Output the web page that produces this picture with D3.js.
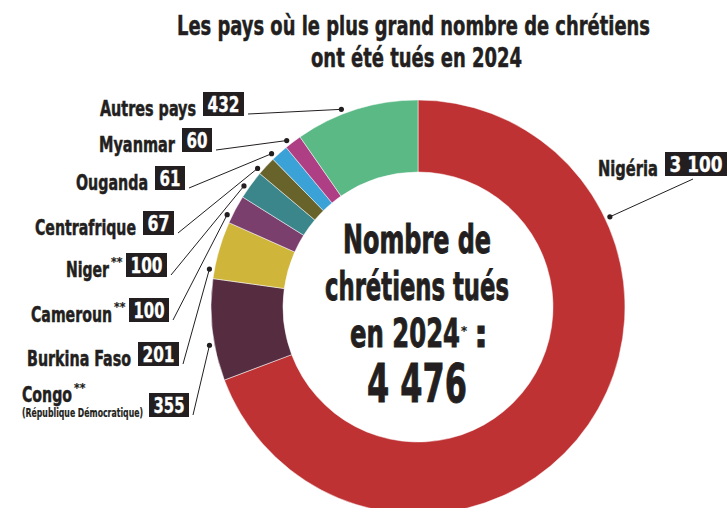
<!DOCTYPE html>
<html>
<head>
<meta charset="utf-8">
<script src="https://cdn.jsdelivr.net/npm/d3@7"></script>
<style>
  html, body { margin: 0; padding: 0; background: #ffffff; }
  svg { display: block; }
  text { font-family: "Liberation Sans Narrow", "DejaVu Sans Condensed", "Liberation Sans", sans-serif; font-weight: bold; fill: #231f20; stroke: #231f20; stroke-width: 0.5; paint-order: stroke; }
  text.big { stroke-width: 0.9; }
  text.inv { fill: #ffffff; stroke: #ffffff; stroke-width: 0.3; }
  text.thin { stroke-width: 0.2; }
</style>
</head>
<body>
<svg id="chart" width="727" height="508"></svg>
<script>
// ---- data ----
const countries = ["Nigéria", "Congo", "Burkina Faso", "Cameroun", "Niger", "Centrafrique", "Ouganda", "Myanmar", "Autres pays"];
const killed = [3100, 355, 201, 100, 100, 67, 61, 60, 432];
const valueLabels = ["3 100", "355", "201", "100", "100", "67", "61", "60", "432"];
const footnoteMarks = ["", "**", "", "**", "**", "", "", "", ""];
const subLabels = ["", "(République Démocratique)", "", "", "", "", "", "", ""];
const colors = ["#bf3234", "#562d40", "#cfb53a", "#7b3f6e", "#3a868b", "#68622b", "#3aa2d6", "#ae3f85", "#5ab985"];
const titleLines = ["Les pays où le plus grand nombre de chrétiens", "ont été tués en 2024"];
const centerLines = ["Nombre de", "chrétiens tués", "en 2024"];
const totalLabel = "4 476";

// ---- layout (positions / sizes only) ----
const W = 727, H = 508;
const cx = 418, cy = 307, rOuter = 207, rInner = 135, rDot = 212;
const boxH = 24;
// t: relative position of the pointer dot inside the slice
const labelLayout = [
  { t: 0.26, bx: 665, by: 152, bw: 62, tw: 60, lineFrom: "below" },
  { t: 0.36, bx: 149, by: 393, bw: 40, tw: 50, lineFrom: "right", leftX: 22 },
  { t: 0.15, bx: 138, by: 342, bw: 41, tw: 104, lineFrom: "right" },
  { t: 0.22, bx: 129, by: 298, bw: 40, tw: 81, lineFrom: "right" },
  { t: 0.34, bx: 126, by: 253, bw: 41, tw: 43, lineFrom: "right" },
  { t: 0.13, bx: 143, by: 211, bw: 31, tw: 101, lineFrom: "right" },
  { t: 0.16, bx: 155, by: 166, bw: 30, tw: 72, lineFrom: "right" },
  { t: 0.27, bx: 182, by: 128, bw: 30, tw: 76, lineFrom: "right" },
  { t: 0.39, bx: 203, by: 92, bw: 41, tw: 96, lineFrom: "right" }
];

const data = countries.map((c, i) => ({
  country: c, value: killed[i], label: valueLabels[i], mark: footnoteMarks[i],
  sub: subLabels[i], color: colors[i], layout: labelLayout[i]
}));

const svg = d3.select("#chart");

// Title
const titleLayout = [
  { x: 177, y: 35, len: 473 },
  { x: 311, y: 67, len: 211 }
];
svg.selectAll("text.title").data(titleLines).join("text")
  .attr("class", "title")
  .attr("x", (d, i) => titleLayout[i].x)
  .attr("y", (d, i) => titleLayout[i].y)
  .attr("font-size", 27)
  .attr("textLength", (d, i) => titleLayout[i].len)
  .attr("lengthAdjust", "spacingAndGlyphs")
  .text(d => d);

// Donut
const pie = d3.pie().sort(null).value(d => d.value).startAngle(0).endAngle(2 * Math.PI);
const arcs = pie(data);
const arc = d3.arc().innerRadius(rInner).outerRadius(rOuter);

const g = svg.append("g").attr("transform", `translate(${cx},${cy})`);
g.selectAll("path").data(arcs).join("path")
  .attr("d", arc)
  .attr("fill", d => d.data.color)
  .attr("stroke", "#ffffff")
  .attr("stroke-width", 0.5);

// Pointer dots & lines
function dotPos(a) {
  const ang = a.startAngle + a.data.layout.t * (a.endAngle - a.startAngle);
  return [cx + rDot * Math.sin(ang), cy - rDot * Math.cos(ang)];
}
function lineStart(a) {
  const L = a.data.layout;
  if (L.lineFrom === "below") return [L.bx + 28, L.by + boxH + 3];
  return [L.bx + L.bw + 4, L.by + boxH - 2];
}

svg.selectAll("line.ptr").data(arcs).join("line")
  .attr("class", "ptr")
  .attr("x1", d => lineStart(d)[0])
  .attr("y1", d => lineStart(d)[1])
  .attr("x2", d => dotPos(d)[0])
  .attr("y2", d => dotPos(d)[1])
  .attr("stroke", "#231f20")
  .attr("stroke-width", 1);

svg.selectAll("circle.dot").data(arcs).join("circle")
  .attr("class", "dot")
  .attr("cx", d => dotPos(d)[0])
  .attr("cy", d => dotPos(d)[1])
  .attr("r", 2.6)
  .attr("fill", "#231f20");

// Value boxes
const lab = svg.selectAll("g.lab").data(arcs).join("g").attr("class", "lab");
lab.append("rect")
  .attr("x", d => d.data.layout.bx)
  .attr("y", d => d.data.layout.by)
  .attr("width", d => d.data.layout.bw)
  .attr("height", boxH)
  .attr("fill", "#231f20");
lab.append("text")
  .attr("class", "inv")
  .attr("x", d => d.data.layout.bx + d.data.layout.bw / 2)
  .attr("y", d => d.data.layout.by + boxH - 4)
  .attr("text-anchor", "middle")
  .attr("font-size", 21)
  .attr("textLength", d => d.data.layout.bw - 9)
  .attr("lengthAdjust", "spacingAndGlyphs")
  .text(d => d.data.label);

// Country labels
lab.each(function(d) {
  const L = d.data.layout;
  const sel = d3.select(this);
  const base = L.by + boxH;
  if (L.leftX !== undefined) {
    // Congo style: left aligned, with a sub label below
    sel.append("text")
      .attr("x", L.leftX).attr("y", base - 15)
      .attr("font-size", 21)
      .attr("textLength", L.tw).attr("lengthAdjust", "spacingAndGlyphs")
      .text(d.data.country);
    if (d.data.mark) {
      sel.append("text").attr("class", "thin")
        .attr("x", L.leftX + L.tw + 2).attr("y", base - 25)
        .attr("font-size", 12).text(d.data.mark);
    }
    sel.append("text").attr("class", "thin")
      .attr("x", L.leftX).attr("y", base)
      .attr("font-size", 11.5)
      .attr("textLength", 121).attr("lengthAdjust", "spacingAndGlyphs")
      .text(d.data.sub);
  } else {
    const hasMark = d.data.mark !== "";
    const endX = L.bx - (hasMark ? 17 : 7);
    sel.append("text")
      .attr("x", endX - L.tw).attr("y", base)
      .attr("font-size", 21)
      .attr("textLength", L.tw).attr("lengthAdjust", "spacingAndGlyphs")
      .text(d.data.country);
    if (hasMark) {
      sel.append("text").attr("class", "thin")
        .attr("x", endX + 2).attr("y", base - 11)
        .attr("font-size", 12).text(d.data.mark);
    }
  }
});

// Center text
const centerLayout = [
  { x: 343, y: 253, len: 148 },
  { x: 325, y: 300, len: 184 },
  { x: 350, y: 347, len: 110 }
];
svg.selectAll("text.center").data(centerLines).join("text")
  .attr("class", "center big")
  .attr("x", (d, i) => centerLayout[i].x)
  .attr("y", (d, i) => centerLayout[i].y)
  .attr("font-size", 39)
  .attr("textLength", (d, i) => centerLayout[i].len)
  .attr("lengthAdjust", "spacingAndGlyphs")
  .text(d => d);
svg.append("text").attr("class", "thin").attr("x", 461).attr("y", 335).attr("font-size", 13).text("*");
svg.append("text").attr("class", "big").attr("x", 474).attr("y", 347).attr("font-size", 39).text(":");
svg.append("text")
  .attr("class", "big")
  .attr("x", 367).attr("y", 402)
  .attr("font-size", 54)
  .attr("textLength", 100).attr("lengthAdjust", "spacingAndGlyphs")
  .text(totalLabel);
</script>
</body>
</html>
